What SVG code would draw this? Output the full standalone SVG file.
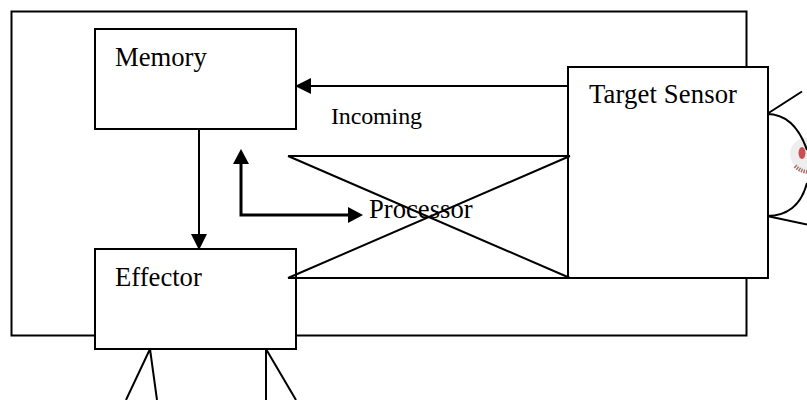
<svg xmlns="http://www.w3.org/2000/svg" width="807" height="400" viewBox="0 0 807 400">
<style>
.b{fill:#fff;stroke:#000;stroke-width:2}
.l{fill:none;stroke:#000;stroke-width:2}
.t{font-family:"Liberation Serif","Times New Roman",serif;font-size:26.670px;fill:#000}
</style>
<defs>
<marker id="a" markerUnits="userSpaceOnUse" markerWidth="16" markerHeight="16" refX="15" refY="8" orient="auto"><path d="M0 0L16 8L0 16z" fill="#000"/></marker>
</defs>
<rect width="807" height="400" fill="#fff"/>
<g id="frame"><rect class="l" x="11.500" y="11.500" width="735" height="324"/></g>
<g id="eye">
<ellipse cx="806" cy="154" rx="16" ry="16" fill="#eee"/>
<ellipse cx="802" cy="153" rx="3.500" ry="6" fill="#c8504f"/>
<path d="M795 166Q800 171 807 172" fill="none" stroke="#a87070" stroke-width="4" stroke-dasharray="1.500 1"/>
<path class="l" d="M767 114C788 114 800 130 807 150M807 183C802 202 790 216 767 216"/>
<path class="l" d="M767 114L802 91.500M767 216L807 224.500"/>
</g>
<g id="legs"><path class="l" d="M150 349L126 400M150 349L157 400M266 349V400M266 349L296 400"/></g>
<g id="connectors">
<path class="l" d="M568 86H296" marker-end="url(#a)"/>
<path class="l" d="M199 129V249" marker-end="url(#a)"/>
<path fill="none" stroke="#000" stroke-width="3" d="M241 160V215H350"/>
<path d="M241 149L233 164H249z" fill="#000"/>
<path d="M363 215L348 207V223z" fill="#000"/>
</g>
<g id="memory"><rect class="b" x="95" y="29" width="201" height="100"/><text class="t" x="115" y="66">Memory</text></g>
<g id="effector"><rect class="b" x="95" y="249" width="201" height="100"/><text class="t" x="115" y="286">Effector</text></g>
<g id="sensor"><rect class="b" x="568" y="67" width="200" height="211"/><text class="t" x="589" y="103" textLength="148">Target Sensor</text></g>
<g id="processor">
<path class="l" d="M288 156H570M288 278H570M288 156L570 278M288 278L570 156"/>
<text class="t" x="369" y="218">Processor</text>
</g>
<text x="331" y="124" font-family="'Liberation Serif','Times New Roman',serif" font-size="24px" textLength="91">Incoming</text>
</svg>
